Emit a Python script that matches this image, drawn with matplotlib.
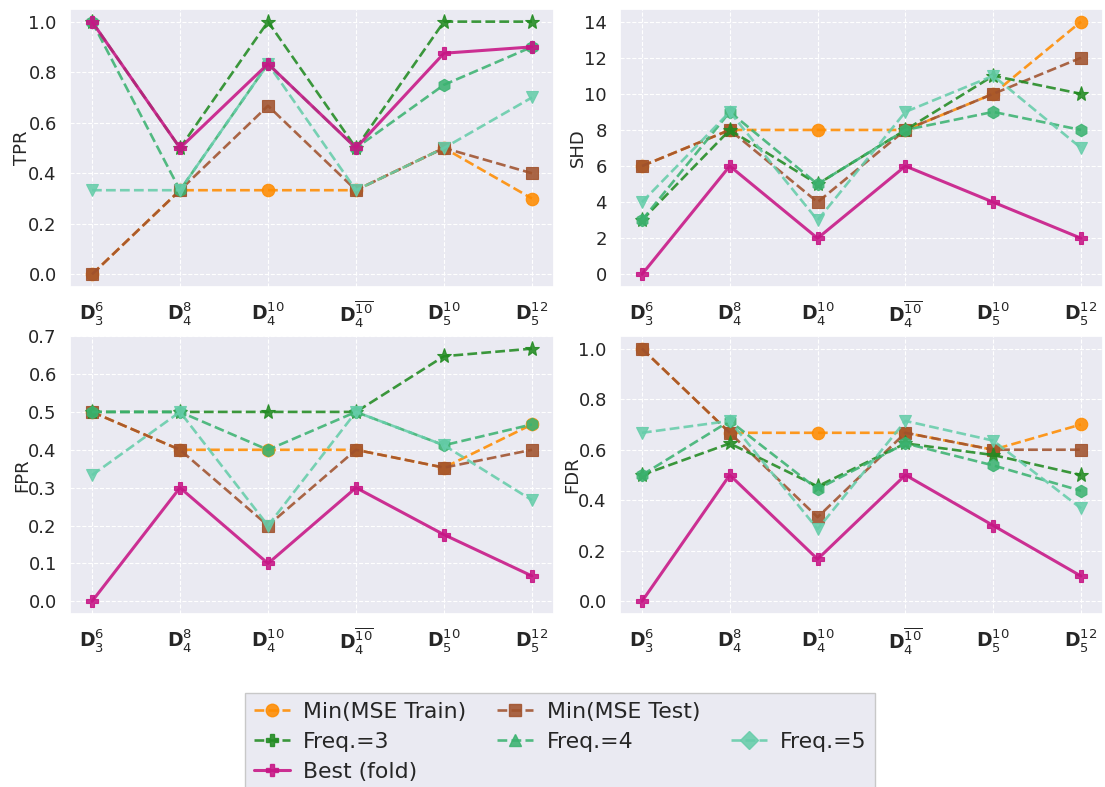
import matplotlib
matplotlib.use("Agg")
import matplotlib.pyplot as plt
from matplotlib.lines import Line2D
import seaborn as sns

sns.set_theme(style="darkgrid")
plt.rcParams['font.family'] = ['DejaVu Sans']

datasets = [r'$\mathbf{D}_3^6$', r'$\mathbf{D}_4^8$', r'$\mathbf{D}_4^{10}$',
            r'$\mathbf{D}_4^{\overline{10}}$', r'$\mathbf{D}_5^{10}$', r'$\mathbf{D}_5^{12}$']

series_names = ['Min(MSE Train)', 'Min(MSE Test)', 'Freq.=3', 'Freq.=4', 'Freq.=5', 'Best (fold)']

tpr_train = [0.0, 0.333, 0.333, 0.333, 0.5, 0.3]
tpr_test = [0.0, 0.333, 0.667, 0.333, 0.5, 0.4]
tpr_freq3 = [1.0, 0.5, 1.0, 0.5, 1.0, 1.0]
tpr_freq4 = [1.0, 0.333, 0.833, 0.5, 0.75, 0.9]
tpr_freq5 = [0.333, 0.333, 0.833, 0.333, 0.5, 0.7]
tpr_best = [1.0, 0.5, 0.833, 0.5, 0.875, 0.9]

shd_train = [6, 8, 8, 8, 10, 14]
shd_test = [6, 8, 4, 8, 10, 12]
shd_freq3 = [3, 8, 5, 8, 11, 10]
shd_freq4 = [3, 9, 5, 8, 9, 8]
shd_freq5 = [4, 9, 3, 9, 11, 7]
shd_best = [0, 6, 2, 6, 4, 2]

fpr_train = [0.5, 0.4, 0.4, 0.4, 0.353, 0.467]
fpr_test = [0.5, 0.4, 0.2, 0.4, 0.353, 0.4]
fpr_freq3 = [0.5, 0.5, 0.5, 0.5, 0.647, 0.667]
fpr_freq4 = [0.5, 0.5, 0.4, 0.5, 0.412, 0.467]
fpr_freq5 = [0.333, 0.5, 0.2, 0.5, 0.412, 0.267]
fpr_best = [0.0, 0.3, 0.1, 0.3, 0.176, 0.067]

fdr_train = [1.0, 0.667, 0.667, 0.667, 0.6, 0.7]
fdr_test = [1.0, 0.667, 0.333, 0.667, 0.6, 0.6]
fdr_freq3 = [0.5, 0.625, 0.455, 0.625, 0.579, 0.5]
fdr_freq4 = [0.5, 0.714, 0.444, 0.625, 0.538, 0.4375]
fdr_freq5 = [0.667, 0.714, 0.286, 0.714, 0.636, 0.368]
fdr_best = [0.0, 0.5, 0.167, 0.5, 0.3, 0.1]

tpr_ticks = [0.0, 0.2, 0.4, 0.6, 0.8, 1.0]
shd_ticks = [0, 2, 4, 6, 8, 10, 12, 14]
fpr_ticks = [0.0, 0.1, 0.2, 0.3, 0.4, 0.5, 0.6, 0.7]
fdr_ticks = [0.0, 0.2, 0.4, 0.6, 0.8, 1.0]

colors = ['#ff8c00', '#a0522d', '#228b22', '#3cb371', '#66cdaa', '#c71585']
plot_markers = ['o', 's', '*', 'h', 'v', 'P']
legend_markers = ['o', 's', 'P', '^', 'D', 'P']
styles = ['--', '--', '--', '--', '--', '-']

panels = [
    ('TPR', tpr_ticks, '{:.1f}', [tpr_train, tpr_test, tpr_freq3, tpr_freq4, tpr_freq5, tpr_best]),
    ('SHD', shd_ticks, '{:d}', [shd_train, shd_test, shd_freq3, shd_freq4, shd_freq5, shd_best]),
    ('FPR', fpr_ticks, '{:.1f}', [fpr_train, fpr_test, fpr_freq3, fpr_freq4, fpr_freq5, fpr_best]),
    ('FDR', fdr_ticks, '{:.1f}', [fdr_train, fdr_test, fdr_freq3, fdr_freq4, fdr_freq5, fdr_best]),
]

fig = plt.figure(figsize=(11.05, 7.87), dpi=100)
W, H = 1105, 787
boxes = [(70, 9, 554, 287), (620, 9, 1103, 287), (70, 336, 554, 614), (620, 336, 1103, 614)]

x = list(range(len(datasets)))
for (name, ticks, fmt, series), (l, t, r, b) in zip(panels, boxes):
    ax = fig.add_axes([l / W, 1 - b / H, (r - l) / W, (b - t) / H])
    for i, ys in enumerate(series):
        ax.plot(x, ys, linestyle=styles[i], marker=plot_markers[i], color=colors[i],
                markersize=9 if plot_markers[i] != '*' else 11,
                linewidth=2.2 if styles[i] == '-' else 1.9, alpha=0.88,
                markeredgecolor=colors[i], markeredgewidth=0.8)
    ylo, yhi = ax.get_ylim()
    ax.set_yticks(ticks)
    ax.set_yticklabels([fmt.format(v) for v in ticks])
    ax.set_ylim(ylo, max(yhi, ticks[-1] + 1e-9))
    ax.set_xticks(x)
    ax.set_xticklabels(datasets, fontsize=13.5)
    ax.tick_params(axis='y', labelsize=13)
    ax.set_ylabel(name, fontsize=13, labelpad=-2)
    ax.grid(True, linestyle='--', linewidth=0.8, color='white')

handles = []
for i in range(6):
    handles.append(Line2D([], [], linestyle=styles[i], marker=legend_markers[i], color=colors[i],
                          markersize=9, linewidth=1.9 if styles[i] == '--' else 2.2, alpha=0.88))
blank = Line2D([], [], linestyle='none', marker=None, alpha=0)
# column-major ordering for a 3-column legend
h_order = [handles[0], handles[2], handles[5], handles[1], handles[3], blank, blank, handles[4], blank]
l_order = [series_names[0], series_names[2], series_names[5], series_names[1], series_names[3], '', '',
           series_names[4], '']
leg = fig.legend(h_order, l_order, ncol=3, loc='upper center', bbox_to_anchor=(0.507, 1 - 693 / H),
                 borderaxespad=0, fontsize=15.8, frameon=True, fancybox=False, facecolor='#eaeaf2',
                 edgecolor='#c8c8c8', handlelength=1.65, handletextpad=0.6, columnspacing=1.4,
                 borderpad=0.4, labelspacing=0.45)
leg.get_frame().set_alpha(1)

fig.savefig('out.png', dpi=100)
